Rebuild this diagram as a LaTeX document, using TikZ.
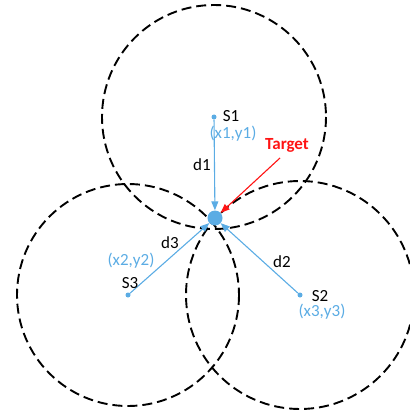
\documentclass[tikz,border=0pt]{standalone}
\usepackage{fontspec}
\setmainfont{Carlito}
\usepackage{xcolor}
\usetikzlibrary{arrows.meta}
\definecolor{skyblue}{RGB}{91,172,228}
\definecolor{tgtred}{RGB}{255,20,20}

\begin{document}
\begin{tikzpicture}[x=1pt,y=-1pt,font=\fontsize{17}{19}\selectfont,
    ring/.style={draw=black, line width=1.9pt, dash pattern=on 10pt off 5pt},
    sensor/.style={circle, fill=skyblue, inner sep=0pt, minimum size=5pt},
    tgt/.style={circle, fill=skyblue, inner sep=0pt, minimum size=15pt},
    distline/.style={draw=skyblue, line width=1.1pt, -{Triangle[length=9pt,width=7pt]}},
    coord/.style={text=skyblue}]
                    \useasboundingbox (0,0) rectangle (409,414);
                    % sensors
                    \node[sensor] (s1) at (214,117) {};
                    \node[sensor] (s2) at (300,295) {};
                    \node[sensor] (s3) at (128,295) {};
                    % range circles
                    \draw[ring] (s1.center) circle (112);
                    \draw[ring] (s3.center) circle (111);
                    \draw[ring] (s2.center) circle (114);
                    % target
                    \node[tgt] (target) at (215,218) {};
                    % distances
                    \draw[distline] (s1) -- (target);
                    \draw[distline] (s2) -- (target);
                    \draw[distline] (s3) -- (target);
                    \node (d1) at (202,165) {d1};
                    \node (d2) at (282,262) {d2};
                    \node (d3) at (170,243) {d3};
                    % sensor labels
                    \node (lab1) at (231,116) {S1};
                    \node[coord] (xy1) at (233,134) {(x1,y1)};
                    \node (lab2) at (320,296) {S2};
                    \node[coord] (xy3) at (322,312) {(x3,y3)};
                    \node (lab3) at (130,283) {S3};
                    \node[coord] (xy2) at (131,261) {(x2,y2)};
                    % target label
                    \node[text=tgtred, font=\fontsize{17}{19}\selectfont\bfseries] (tlab) at (287,145) {Target};
                    \coordinate (tstart) at (280,158);
                    \draw[tgtred, line width=1.1pt, -{Triangle[length=9pt,width=7pt]}] (tstart) -- (target);
\end{tikzpicture}
\end{document}
